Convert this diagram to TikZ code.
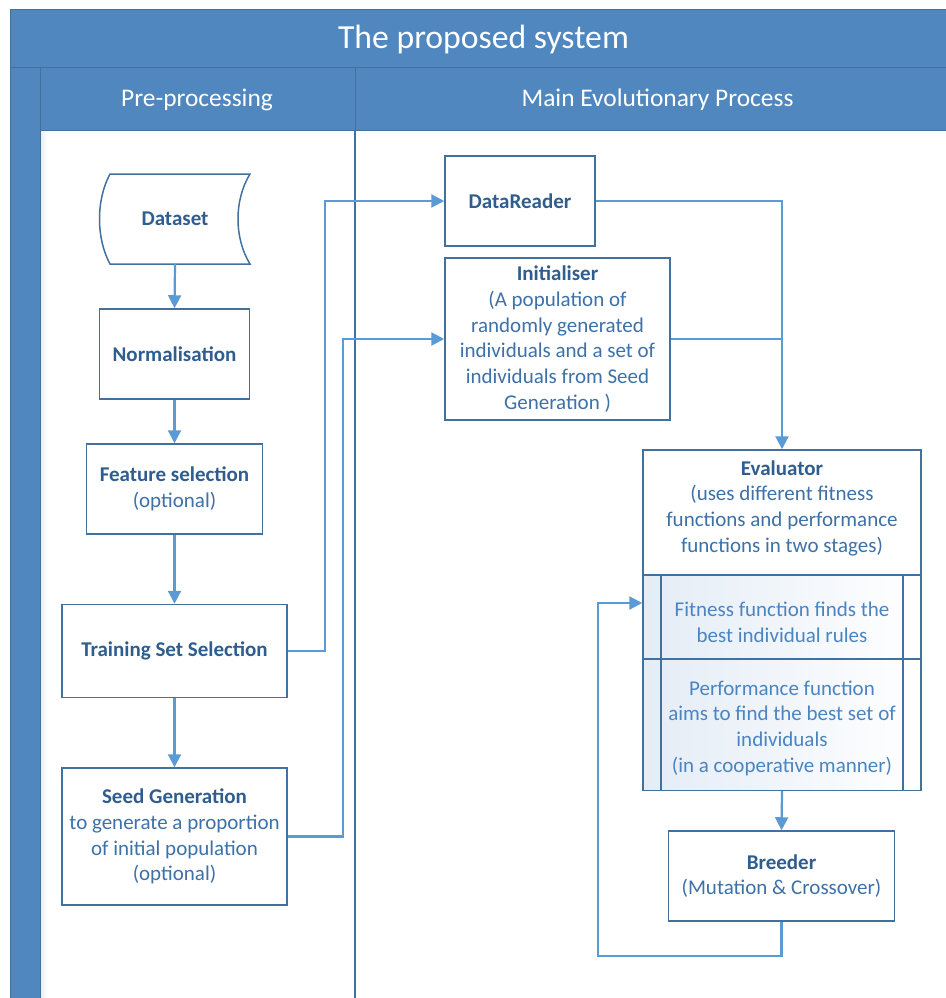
\documentclass[tikz,border=0pt]{standalone}
\usepackage{fontspec}
\setmainfont{Carlito}
\usetikzlibrary{arrows.meta,calc}
\definecolor{hdr}{HTML}{4F87BE}
\definecolor{hdrline}{HTML}{41719C}
\definecolor{conncol}{HTML}{5B9BD5}
\definecolor{boxline}{HTML}{41719C}
\definecolor{txtb}{HTML}{2F5E8E}
\definecolor{txtr}{HTML}{3D71A8}
\definecolor{txtl}{HTML}{4A85C2}
\definecolor{tint}{HTML}{E4ECF6}
\begin{document}
\begin{tikzpicture}[x=1pt,y=-1pt,
  box/.style={draw=boxline,line width=1.5pt,fill=white,inner sep=0pt,align=center,
    text=txtr,font=\fontsize{21}{25.7}\selectfont},
  rowcell/.style={draw=boxline,line width=1.5pt,shade,left color=tint,right color=white,
    inner sep=0pt,align=center,text=txtl,font=\fontsize{21}{25.7}\selectfont},
  conn/.style={draw=conncol,line width=2.2pt,-{Triangle[length=13pt,width=13pt]}},
  plainconn/.style={draw=conncol,line width=2.2pt},
  hdrtext/.style={text=white,font=\fontsize{25.4}{30}\selectfont},
  rowtext/.style={align=center,text=txtl,font=\fontsize{21}{25.7}\selectfont,inner sep=0pt}]
\useasboundingbox (0,0) rectangle (945,998);
\fill[white] (0,0) rectangle (945,998);
% frame and headers
\fill[white] (40,130) rectangle (945,998);
\shade[left color=tint,right color=white] (40,130) rectangle (47,998);
\draw[fill=hdr,draw=hdrline,line width=1pt] (10,10) rectangle (946,68);
\draw[fill=hdr,draw=hdrline,line width=1pt] (10,68) rectangle (40,999);
\draw[fill=hdr,draw=hdrline,line width=1pt] (40,68) rectangle (355,130);
\draw[fill=hdr,draw=hdrline,line width=1pt] (355,68) rectangle (946,130);
\draw[draw=hdrline,line width=1.2pt] (355,130) -- (355,999);
\node[text=white,font=\fontsize{33.7}{40}\selectfont] (title) at (483.5,40) {The proposed system};
\node[hdrtext] (lane1) at (197,100) {Pre-processing};
\node[hdrtext] (lane2) at (657.5,100) {Main Evolutionary Process};
% Dataset
\draw[draw=boxline,line width=1.5pt,fill=white] (110,174) -- (250,174)
  .. controls (234,200) and (234,238) .. (250,264) -- (110,264)
  .. controls (96,238) and (96,200) .. (110,174) -- cycle;
\node[inner sep=0pt,minimum width=140pt,minimum height=90pt] (ds) at (175,219) {\textcolor{txtb}{\fontsize{21}{25.7}\selectfont\bfseries Dataset}};
% pre-processing boxes
\node[box,minimum width=150pt,minimum height=90pt] (norm) at (174.5,354) {\textcolor{txtb}{\bfseries Normalisation}};
\node[box,minimum width=176pt,minimum height=90pt] (feat) at (174.5,489) {{\color{txtb}\bfseries Feature selection}\\(optional)};
\node[box,minimum width=225pt,minimum height=93pt] (train) at (174.5,651) {\textcolor{txtb}{\bfseries Training Set Selection}};
\node[box,minimum width=225pt,minimum height=137pt] (seed) at (174.5,836.5) {{\color{txtb}\bfseries Seed Generation}\\to generate a proportion\\of initial population\\(optional)};
% main boxes
\node[box,minimum width=150pt,minimum height=90pt] (dr) at (520,201) {\textcolor{txtb}{\bfseries DataReader}};
\node[box,minimum width=225pt,minimum height=162pt] (init) at (557.5,339) {{\color{txtb}\bfseries Initialiser}\\(A population of\\randomly generated\\individuals and a set of\\individuals from Seed\\Generation )};
\node[box,minimum width=278pt,minimum height=340pt] (eval) at (782,620) {};
\node[rowtext,text=txtr] (evtxt) at (782,508) {{\color{txtb}\bfseries Evaluator}\\(uses different fitness\\functions and performance\\functions in two stages)};
\node[rowcell,minimum width=278pt,minimum height=84pt] (row1) at (782,617) {};
\node[rowcell,minimum width=278pt,minimum height=131.5pt] (row2) at (782,724.75) {};
\draw[draw=boxline,line width=1.5pt] (661,575) -- (661,790);
\draw[draw=boxline,line width=1.5pt] (903,575) -- (903,790);
\node[rowtext] (r1t) at (782,622) {Fitness function finds the\\best individual rules};
\node[rowtext] (r2t) at (782,728) {Performance function\\aims to find the best set of\\individuals\\(in a cooperative manner)};
\node[box,minimum width=226pt,minimum height=90pt] (br) at (781.5,876) {{\color{txtb}\bfseries Breeder}\\(Mutation \& Crossover)};
% connectors
\draw[conn] (ds.south) -- (norm.north);
\draw[conn] (norm.south) -- (feat.north);
\draw[conn] (feat.south) -- (train.north);
\draw[conn] (train.south) -- (seed.north);
\draw[conn] (train.east) -- ++(37,0) |- (dr.west);
\draw[conn] (seed.east) -- ++(55,0) |- (init.west);
\draw[conn] (dr.east) -| (eval.north);
\draw[plainconn] (init.east) -- (init.east -| eval.north);
\draw[conn] (eval.south) -- (br.north);
\coordinate (lp) at (598,603);
\draw[conn] (br.south) -- ++(0,34.5) -| (lp) -- (eval.west |- lp);
\end{tikzpicture}
\end{document}
